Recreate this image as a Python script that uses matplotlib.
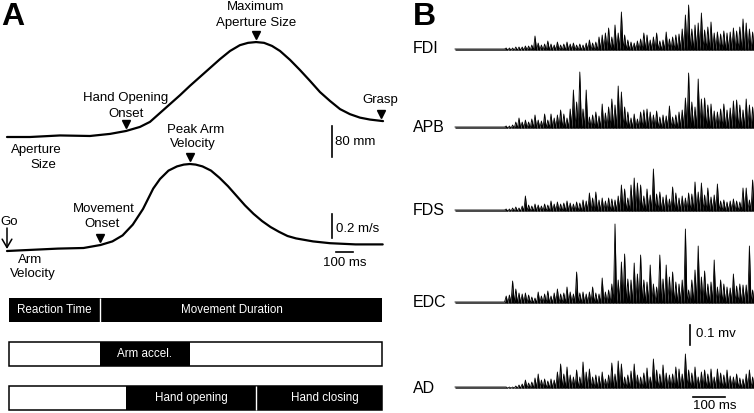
import numpy as np
import matplotlib
matplotlib.use('Agg')
import matplotlib.pyplot as plt
from matplotlib import font_manager
from matplotlib.transforms import offset_copy

# ---- data ----
# panel A, aperture size (mm) over time (ms from Go)
ap_t = [0, 135, 312, 488, 606, 700, 782, 841, 900, 959, 1018, 1076, 1135, 1194,
        1253, 1312, 1370, 1418, 1465, 1512, 1559, 1606, 1665, 1723, 1782, 1841,
        1900, 1959, 2017, 2076, 2135, 2212]
ap_mm = [0, 0, 4, 2.6, 8, 15.5, 26, 39, 62, 85, 108, 132, 155, 178,
         201, 222, 237, 243, 245, 243, 235, 222, 199, 173, 145, 116,
         93, 72, 59, 50, 45, 41]

# panel A, arm velocity (m/s)
vel_t = [0, 150, 300, 450, 550, 620, 680, 740, 800, 860, 900, 950, 1000, 1040,
         1076, 1110, 1150, 1200, 1250, 1300, 1350, 1400, 1450, 1500, 1550, 1600,
         1650, 1700, 1800, 1900, 2050, 2210]
vel_ms = [0, 0.01, 0.02, 0.025, 0.05, 0.08, 0.13, 0.22, 0.35, 0.52, 0.60, 0.67,
          0.705, 0.72, 0.725, 0.72, 0.705, 0.67, 0.61, 0.54, 0.46, 0.38, 0.31,
          0.25, 0.20, 0.16, 0.125, 0.105, 0.08, 0.065, 0.055, 0.055]

# event times (ms)
go_t = 0
bar_start = 10
mov_onset = 547
hand_open = 700
peak_vel = 1076
max_ap = 1465
grasp = 2200
bar_end = 2205

# panel B, EMG spike amplitudes (uV), one every 10 ms from 160 ms
emg_t0 = 160
emg_dt = 10
emg_names = ['FDI', 'APB', 'FDS', 'EDC', 'AD']
fdi = [5, 5, 5, 10, 10, 10, 15, 15, 20, 65, 30, 20, 25, 40, 25, 20, 35, 20, 25, 35,
       25, 30, 20, 25, 20, 30, 45, 30, 35, 60, 70, 80, 105, 60, 120, 80, 185, 70, 45, 35,
       30, 40, 50, 80, 70, 45, 60, 80, 40, 45, 85, 50, 60, 70, 75, 100, 170, 220, 100, 120,
       130, 180, 95, 110, 135, 80, 85, 75, 90, 80, 85, 105, 90, 110, 150, 130, 100, 85]
apb = [5, 5, 10, 25, 45, 25, 35, 25, 40, 60, 35, 30, 65, 35, 65, 45, 60, 85, 65, 45,
       90, 185, 125, 275, 90, 185, 50, 60, 75, 55, 115, 70, 100, 140, 110, 205, 175, 100, 75, 45,
       65, 40, 75, 85, 90, 75, 60, 80, 50, 60, 55, 105, 50, 60, 75, 85, 145, 270, 125, 100,
       240, 140, 145, 110, 115, 80, 75, 90, 115, 85, 95, 130, 135, 110, 85, 140, 110, 100]
fds = [5, 5, 10, 15, 10, 20, 70, 25, 20, 30, 25, 20, 30, 25, 45, 30, 40, 30, 35, 45,
       35, 30, 40, 35, 50, 45, 85, 60, 90, 50, 60, 45, 60, 55, 50, 70, 125, 105, 60, 125,
       160, 135, 125, 70, 105, 75, 205, 80, 90, 65, 75, 55, 115, 85, 60, 70, 60, 85, 80, 140,
       90, 135, 75, 110, 65, 75, 130, 45, 50, 40, 45, 55, 45, 40, 110, 110, 50, 150]
edc = [30, 35, 105, 65, 45, 40, 45, 35, 25, 20, 50, 30, 40, 55, 30, 45, 65, 40, 45, 75,
       50, 40, 150, 45, 50, 40, 50, 75, 45, 40, 120, 50, 60, 90, 390, 110, 200, 240, 115, 110,
       195, 140, 235, 110, 100, 185, 90, 75, 235, 115, 185, 125, 150, 100, 90, 110, 365, 60, 110, 160,
       280, 125, 155, 90, 100, 210, 75, 110, 90, 75, 70, 140, 80, 90, 85, 85, 280, 60]
ad = [0, 0, 0, 5, 10, 15, 35, 20, 25, 45, 65, 35, 40, 30, 40, 35, 75, 115, 65, 100,
      60, 50, 85, 50, 125, 75, 90, 50, 60, 55, 75, 40, 60, 120, 65, 130, 115, 50, 60, 80,
      115, 60, 50, 70, 95, 50, 140, 85, 65, 110, 70, 60, 65, 100, 90, 65, 165, 85, 70, 100,
      50, 75, 85, 65, 90, 50, 90, 70, 60, 85, 55, 50, 65, 45, 40, 65, 85, 50]
emg = [fdi, apb, fds, edc, ad]

# ---- figure ----
W, H = 754, 413
plt.rcParams['font.family'] = ['Liberation Sans', 'DejaVu Sans']
fig = plt.figure(figsize=(W / 100, H / 100), dpi=100)

names = {f.name for f in font_manager.fontManager.ttflist}
narrow = 'Liberation Sans Narrow' if 'Liberation Sans Narrow' in names else 'Liberation Sans'
bar_fs = 9.5 if narrow == 'Liberation Sans Narrow' else 8.4


def make_ax(rect):
    ax = fig.add_axes(rect)
    ax.axis('off')
    ax.patch.set_visible(False)
    return ax


def label(px, py, s, ha='center', size=9.5, **kw):
    fig.text(px / W, 1 - py / H, s, ha=ha, va='baseline', fontsize=size, **kw)


# pixel -> data helpers for the layout
msA = lambda px: (px - 7) * 100 / 17
mmA = lambda py: (137 - py) * 80 / 31
vA = lambda py: (251 - py) * 0.2 / 24
rowA = lambda py: (py - 310) / 44
msB = lambda px: (px - 455) / 0.32
mvB = lambda py: (387 - py) * 0.005

rectA = [0, 0, 400 / W, 1]
ax_ap = make_ax(rectA)
ax_v = make_ax(rectA)
ax_bar = make_ax(rectA)
axB = make_ax([440 / W, 0, 314 / W, 1])

for ax in (ax_ap, ax_v, ax_bar):
    ax.set_xlim(msA(0), msA(400))
ax_ap.set_ylim(mmA(413), mmA(0))
ax_v.set_ylim(vA(413), vA(0))
ax_bar.set_ylim(rowA(413), rowA(0))
axB.set_xlim(msB(440), msB(754))
axB.set_ylim(mvB(413), mvB(0))

# curves
ax_ap.plot(ap_t, ap_mm, color='k', lw=1.6, solid_capstyle='round')
ax_v.plot(vel_t, vel_ms, color='k', lw=1.6, solid_capstyle='round')

# event markers
ap_ev = [hand_open, max_ap, grasp]
ax_ap.plot(ap_ev, np.interp(ap_ev, ap_t, ap_mm), 'kv', ms=6,
           transform=offset_copy(ax_ap.transData, fig=fig, x=0, y=7, units='dots'))
v_ev = [mov_onset, peak_vel]
ax_v.plot(v_ev, np.interp(v_ev, vel_t, vel_ms), 'kv', ms=6,
          transform=offset_copy(ax_v.transData, fig=fig, x=0, y=7, units='dots'))

# Go arrow
ax_v.annotate('', xy=(go_t, vA(249)), xytext=(go_t, vA(228)),
              arrowprops=dict(arrowstyle='->,head_length=0.6,head_width=0.35',
                              lw=1.1, color='k', shrinkA=0, shrinkB=0))

# scale bars panel A
ax_ap.plot([msA(332)] * 2, [mmA(157), mmA(157) + 80], color='k', lw=1.2)
ax_v.plot([msA(332)] * 2, [vA(238), vA(238) + 0.2], color='k', lw=1.2)
ax_v.plot([msA(336), msA(336) + 100], [vA(252)] * 2, color='k', lw=1.2)

# labels panel A
label(13, 25, 'A', size=23, weight='bold')
label(256, 10, 'Maximum')
label(256, 26, 'Aperture Size')
label(126, 101, 'Hand Opening')
label(126, 117, 'Onset')
label(380, 103, 'Grasp')
label(36, 153, 'Aperture')
label(43, 168, 'Size')
label(335, 145, '80 mm', ha='left')
label(196, 133, 'Peak Arm')
label(193, 147, 'Velocity')
label(104, 212, 'Movement')
label(102, 227, 'Onset')
label(9, 225, 'Go')
label(30, 263, 'Arm')
label(33, 277, 'Velocity')
label(336, 232, '0.2 m/s', ha='left')
label(345, 266, '100 ms')

# phase bars
bh = 24 / 44
ax_bar.barh(0, bar_end - bar_start, left=bar_start, height=bh, color='k')
ax_bar.vlines(mov_onset, -bh / 2, bh / 2, color='white', lw=1)
ax_bar.barh(1, bar_end - bar_start, left=bar_start, height=bh,
            facecolor='white', edgecolor='k', lw=1.1)
ax_bar.barh(1, peak_vel - mov_onset, left=mov_onset, height=bh, color='k')
ax_bar.barh(2, bar_end - bar_start, left=bar_start, height=bh,
            facecolor='white', edgecolor='k', lw=1.1)
ax_bar.barh(2, bar_end - hand_open, left=hand_open, height=bh, color='k')
ax_bar.vlines(max_ap, 2 - bh / 2, 2 + bh / 2, color='white', lw=1)

bar_texts = [((bar_start + mov_onset) / 2, 0, 'Reaction Time'),
             (msA(232), 0, 'Movement Duration'),
             ((mov_onset + peak_vel) / 2, 1, 'Arm accel.'),
             ((hand_open + max_ap) / 2, 2, 'Hand opening'),
             (msA(325), 2, 'Hand closing')]
for x, r, s in bar_texts:
    ax_bar.text(x, r, s, color='white', ha='center', va='center',
                fontsize=bar_fs, family=narrow)

# panel B EMG
base_px = [49, 127, 210, 302, 387]
label_px = [53, 132, 215, 307, 393]
for name, amps, bpx, lpx in zip(emg_names, emg, base_px, label_px):
    amps = np.array(amps) / 1000.0
    n = len(amps)
    tp = emg_t0 + emg_dt * np.arange(n)
    tt = np.empty(2 * n)
    yy = np.empty(2 * n)
    tt[0::2] = tp
    tt[1::2] = tp + emg_dt / 2
    yy[0::2] = amps
    yy[1::2] = -0.006
    t_all = np.r_[0, emg_t0 - 5, tt]
    y_all = np.r_[0, 0, yy] + mvB(bpx)
    axB.fill_between(t_all, mvB(bpx) - 0.006, y_all, color='k', lw=0)
    axB.plot(t_all, y_all, color='k', lw=0.6)
    label(413, lpx, name, ha='left', size=11.5)

axB.plot([msB(690)] * 2, [mvB(345), mvB(345) + 0.1], color='k', lw=1.2)
axB.plot([msB(693), msB(693) + 100], [mvB(397)] * 2, color='k', lw=1.2)
label(696, 337, '0.1 mv', ha='left')
label(715, 409, '100 ms')
label(424, 25, 'B', size=23, weight='bold')

fig.savefig('out.png', dpi=100)
